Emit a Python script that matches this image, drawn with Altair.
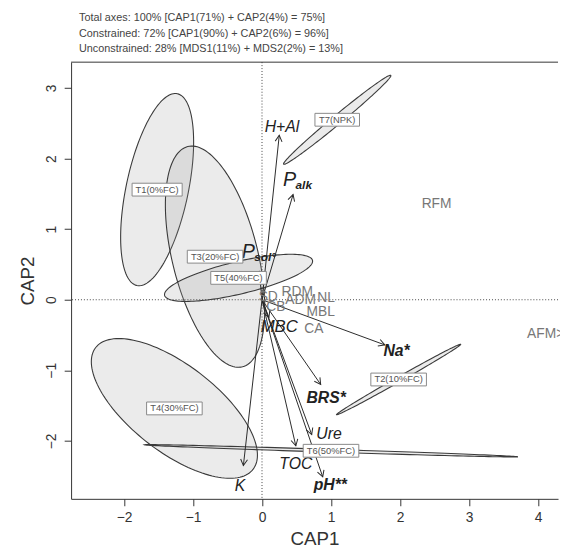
import altair as alt
import pandas as pd
import numpy as np

FONT = "Liberation Sans"

# ---------------- data ----------------
header = [
    "Total axes: 100% [CAP1(71%) + CAP2(4%) = 75%]",
    "Constrained: 72% [CAP1(90%) + CAP2(6%) = 96%]",
    "Unconstrained: 28% [MDS1(11%) + MDS2(2%) = 13%]",
]

x_domain = [-2.767, 4.29]
y_domain = [-2.821, 3.366]
x_ticks = [-2, -1, 0, 1, 2, 3, 4]
y_ticks = [-2, -1, 0, 1, 2, 3]

# treatment ellipses (centre, semi-axes, rotation in degrees)
trt_names = ["T1(0%FC)", "T2(10%FC)", "T3(20%FC)", "T4(30%FC)", "T5(40%FC)", "T6(50%FC)", "T7(NPK)"]
trt_cx = [-1.52, 1.98, -0.68, -1.27, -0.34, 1.00, 1.09]
trt_cy = [1.56, -1.13, 0.61, -1.54, 0.31, -2.14, 2.55]
trt_a = [1.39, 1.03, 1.61, 1.43, 1.10, 2.71, 1.00]
trt_b = [0.45, 0.035, 0.62, 0.62, 0.23, 0.02, 0.065]
trt_angle = [77.8, 29.0, 104.3, -36.8, 13.0, -1.8, 39.0]

# environmental arrows
env_names = ["H+Al", "P_alk", "P_sol", "Na*", "BRS*", "Ure", "TOC", "pH**", "K", "MBC"]
env_tip_x = [0.25, 0.45, -0.04, 1.78, 0.85, 0.72, 0.49, 0.88, -0.27, 0.10]
env_tip_y = [2.33, 1.49, 0.40, -0.64, -1.20, -1.91, -2.07, -2.51, -2.35, -0.25]
env_text = ["H+Al", "P", "P", "Na*", "BRS*", "Ure", "TOC", "pH**", "K", "MBC"]
env_sub = ["", "alk", "sol°", "", "", "", "", "", "", ""]
env_lab_x = [0.29, 0.40, -0.20, 1.95, 0.93, 0.97, 0.49, 0.99, -0.32, 0.25]
env_lab_y = [2.44, 1.69, 0.67, -0.73, -1.40, -1.91, -2.33, -2.63, -2.64, -0.39]
env_bold = [False, False, False, True, True, False, False, True, False, False]
env_size = [16, 20, 20, 16, 16, 16, 16, 16, 16, 17]

# response variables (grey labels)
resp_names = ["RFM", "AFM>", "RDM", "SD", "ADM", "NL", "CB", "MBL", "CA"]
resp_x = [2.53, 4.11, 0.51, 0.09, 0.56, 0.93, 0.20, 0.85, 0.75]
resp_y = [1.35, -0.49, 0.11, 0.04, 0.00, 0.03, -0.11, -0.17, -0.42]

# ---------------- tables ----------------
rows = []
for k, n in enumerate(trt_names):
    th = np.deg2rad(trt_angle[k])
    t = np.linspace(0, 2 * np.pi, 145)
    ex = trt_cx[k] + trt_a[k] * np.cos(t) * np.cos(th) - trt_b[k] * np.sin(t) * np.sin(th)
    ey = trt_cy[k] + trt_a[k] * np.cos(t) * np.sin(th) + trt_b[k] * np.sin(t) * np.cos(th)
    for i in range(len(t)):
        rows.append({"name": n, "i": k * 1000 + i, "x": ex[i], "y": ey[i]})
ell_df = pd.DataFrame(rows)

px_x = 494 / (x_domain[1] - x_domain[0])
px_y = 443 / (y_domain[1] - y_domain[0])

box_df = pd.DataFrame({
    "name": trt_names,
    "x": trt_cx,
    "y": trt_cy,
})
box_df["hw"] = (box_df["name"].str.len() * 5.6 + 6) / 2 / px_x
box_df["x1"] = box_df["x"] - box_df["hw"]
box_df["x2"] = box_df["x"] + box_df["hw"]
box_df["y1"] = box_df["y"] - 6.5 / px_y
box_df["y2"] = box_df["y"] + 6.5 / px_y

env_df = pd.DataFrame({
    "name": env_names,
    "x": [0.0] * len(env_names),
    "y": [0.0] * len(env_names),
    "x2": env_tip_x,
    "y2": env_tip_y,
    "text": env_text,
    "sub": env_sub,
    "lx": env_lab_x,
    "ly": env_lab_y,
    "bold": env_bold,
    "size": env_size,
})
env_df["ang"] = (np.degrees(np.arctan2(env_df["x2"] * px_x, env_df["y2"] * px_y)) + 360) % 360

resp_df = pd.DataFrame({"name": resp_names, "x": resp_x, "y": resp_y})

# ---------------- encodings ----------------
xs = alt.Scale(domain=x_domain, nice=False, zero=False)
ys = alt.Scale(domain=y_domain, nice=False, zero=False)
xaxis = alt.Axis(values=x_ticks, title="CAP1", format="d", labelPadding=5, titlePadding=5)
yaxis = alt.Axis(values=y_ticks, title="CAP2", format="d", labelAngle=270,
                 labelAlign="center", labelBaseline="bottom", labelPadding=6, titlePadding=7)


def X(f="x"):
    return alt.X(f"{f}:Q", scale=xs, axis=xaxis)


def Y(f="y"):
    return alt.Y(f"{f}:Q", scale=ys, axis=yaxis)


ellipses = alt.Chart(ell_df).mark_line(
    fill="#9a9a9a", fillOpacity=0.2, stroke="#3a3a3a", strokeWidth=1.1, clip=True
).encode(x=X(), y=Y(), detail="name:N", order="i:Q")

zero_v = alt.Chart(pd.DataFrame({"x": [0.0]})).mark_rule(
    color="#444", strokeDash=[1, 2], strokeWidth=1
).encode(x=X())
zero_h = alt.Chart(pd.DataFrame({"y": [0.0]})).mark_rule(
    color="#444", strokeDash=[1, 2], strokeWidth=1
).encode(y=Y())

shafts = alt.Chart(env_df).mark_rule(color="#2a2a2a", strokeWidth=1).encode(
    x=X(), y=Y(), x2="x2:Q", y2="y2:Q"
)
heads = alt.Chart(env_df).mark_point(
    shape="M-0.55,1L0,0L0.55,1", filled=False, size=160, color="#2a2a2a", strokeWidth=1, opacity=1
).encode(x=X("x2"), y=Y("y2"), angle=alt.Angle("ang:Q", scale=None))

resp_text = alt.Chart(resp_df).mark_text(
    font=FONT, fontSize=14, color="#777777"
).encode(x=X(), y=Y(), text="name:N")

env_main_n = alt.Chart(env_df[~env_df["bold"]]).mark_text(
    font=FONT, fontStyle="italic", color="#222222"
).encode(x=X("lx"), y=Y("ly"), text="text:N", size=alt.Size("size:Q", scale=None))
env_main_b = alt.Chart(env_df[env_df["bold"]]).mark_text(
    font=FONT, fontStyle="italic", fontWeight="bold", color="#222222", fontSize=16
).encode(x=X("lx"), y=Y("ly"), text="text:N")
env_sub_t = alt.Chart(env_df[env_df["sub"] != ""]).mark_text(
    font=FONT, fontStyle="italic", fontWeight="bold", color="#222222", fontSize=12,
    align="left", dx=6, dy=5
).encode(x=X("lx"), y=Y("ly"), text="sub:N")

boxes = alt.Chart(box_df).mark_rect(fill="white", stroke="#888888", strokeWidth=1).encode(
    x=X("x1"), x2="x2:Q", y=Y("y1"), y2="y2:Q"
)
box_text = alt.Chart(box_df).mark_text(font=FONT, fontSize=9.5, color="#555555").encode(
    x=X(), y=Y(), text="name:N"
)

top_rule = alt.Chart(pd.DataFrame({"y": [y_domain[1]]})).mark_rule(
    color="#333", strokeWidth=1
).encode(y=Y())

chart = alt.layer(
    ellipses, zero_v, zero_h, shafts, heads, resp_text,
    env_main_n, env_main_b, env_sub_t, boxes, box_text, top_rule
).properties(
    width=494,
    height=443,
    autosize=alt.AutoSizeParams(type="none"),
    padding={"left": 64, "top": 51, "right": 2, "bottom": 52},
    title=alt.TitleParams(
        text=header, anchor="start", align="left", frame="group", fontSize=11, font=FONT,
        fontWeight="normal", color="#444444", lineHeight=15.5, offset=8, dx=8
    ),
).configure_view(stroke=None).configure_axis(
    domainColor="#333", tickColor="#333", labelColor="#333", titleColor="#333",
    labelFont=FONT, titleFont=FONT, labelFontSize=14, titleFontSize=19,
    titleFontWeight="normal", tickSize=7, grid=False, domainWidth=1, tickWidth=1
)

chart.save("out.html", embed_options={"renderer": "svg", "actions": False})
